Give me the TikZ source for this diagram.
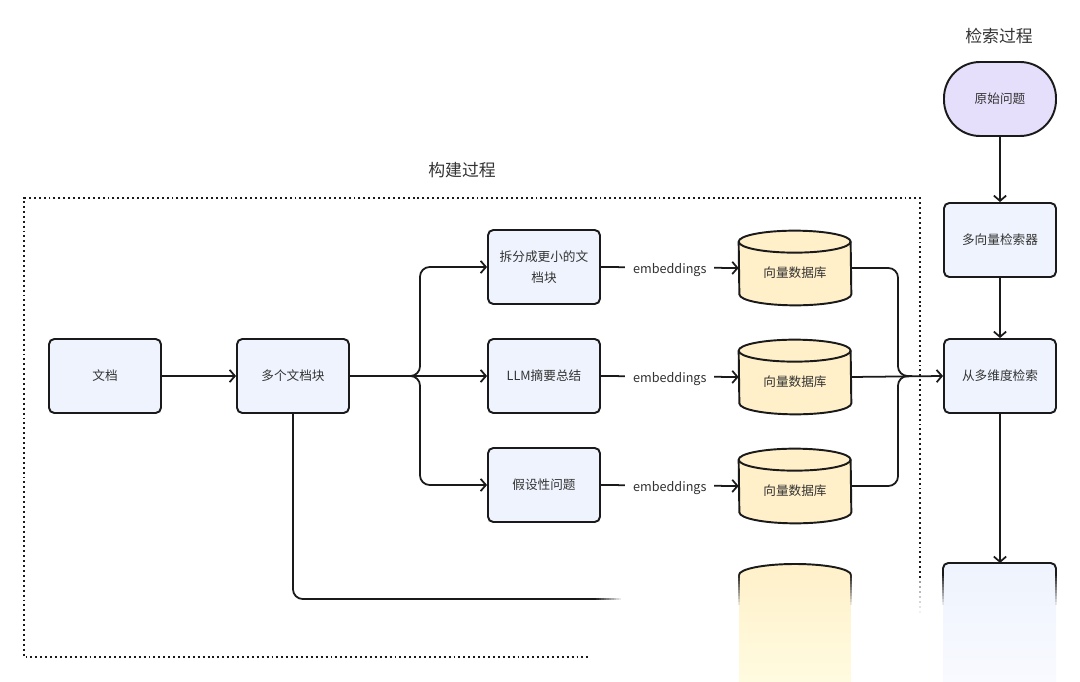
\documentclass[tikz,border=0pt]{standalone}
\usepackage{fontspec}
\setmainfont{Noto Sans CJK SC}
\usetikzlibrary{arrows.meta,backgrounds}

\definecolor{boxfill}{HTML}{EEF3FD}
\definecolor{boxfade}{HTML}{FAFBFF}
\definecolor{dbfill}{HTML}{FFF0C9}
\definecolor{dbfade}{HTML}{FFFCE2}
\definecolor{askfill}{HTML}{E6DFFB}
\definecolor{inkcol}{HTML}{1A1A1A}
\definecolor{txtcol}{HTML}{333333}

\tikzset{
  txt/.style={text=txtcol, font=\fontsize{7.2}{12}\selectfont, align=center},
  stepbox/.style={txt, draw=inkcol, line width=1.1pt, fill=boxfill, rounded corners=3pt,
    minimum width=2.24cm, minimum height=1.48cm},
  askbox/.style={stepbox, fill=askfill, rounded corners=0.72cm},
  dbnode/.style={txt, inner sep=0pt, text height=12pt, text depth=1pt,
    minimum width=2.24cm, minimum height=1.48cm},
  dbline/.style={draw=inkcol, line width=1.1pt},
  link/.style={line width=1pt, draw=inkcol},
  arr/.style={link, -{Straight Barb[length=3pt,width=7pt]}},
  frame/.style={line width=1.1pt, dash pattern=on 1.1pt off 1.7pt, draw=inkcol},
  title/.style={text=txtcol, font=\fontsize{9.6}{12}\selectfont},
  embed/.style={txt, fill=white, inner xsep=4.5pt, yshift=-1.5}
}

\begin{document}
\begin{tikzpicture}[x=0.02cm, y=-0.02cm]
\useasboundingbox (0,0) rectangle (1080,682);

% titles
\node[title] (buildT) at (462,170) {构建过程};
\node[title] (searchT) at (999,36) {检索过程};

% build frame
\draw[frame] (920,578) -- (920,198) -- (24,198) -- (24,657) -- (590,657);

% build side
\node[stepbox] (doc) at (105,376) {文档};
\node[stepbox] (chunks) at (293,376) {多个文档块};
\node[stepbox] (split) at (544,267) {拆分成更小的文\\档块};
\node[stepbox] (summ) at (544,376) {LLM摘要总结};
\node[stepbox] (hypo) at (544,485) {假设性问题};
\node[dbnode] (db1) at (795,268) {向量数据库};
\node[dbnode] (db2) at (795,377) {向量数据库};
\node[dbnode] (db3) at (795,486) {向量数据库};

% cylinders behind the db texts
\begin{scope}[on background layer]
\foreach \d in {db1,db2,db3} {
  \draw[dbline, fill=dbfill] ([yshift=-0.22cm]\d.north west)
    arc[start angle=180, end angle=0, x radius=1.12cm, y radius=0.22cm]
    -- ([yshift=0.22cm]\d.south east)
    arc[start angle=0, end angle=-180, x radius=1.12cm, y radius=0.22cm] -- cycle;
  \draw[dbline] ([yshift=-0.22cm]\d.north west)
    arc[start angle=180, end angle=360, x radius=1.12cm, y radius=0.22cm];
}
\end{scope}

% search side
\node[askbox] (ask) at (1000,99) {原始问题};
\node[stepbox] (retr) at (1000,240) {多向量检索器};
\node[stepbox] (multi) at (1000,376) {从多维度检索};

\coordinate (fork) at (420,376);
\coordinate (join) at (898,376);
\coordinate (joinR) at (912,376);
\coordinate (lowend) at (596,599);
\coordinate (resTop) at (1000,563);

% faded bottom parts
\shade[top color=dbfill, bottom color=dbfade] (739,575)
  arc[start angle=180, end angle=0, x radius=1.12cm, y radius=0.22cm]
  -- (851,690) -- (739,690) -- cycle;
\draw[dbline] (739,575)
  arc[start angle=180, end angle=0, x radius=1.12cm, y radius=0.22cm];
\shade[top color=boxfill, bottom color=boxfade, rounded corners=3pt] (943,563) rectangle (1056,700);
\draw[dbline, rounded corners=3pt] (943,576) |- (1000,563) -| (1056,576);
\foreach \xx in {739,851,943,1056}
  \foreach \k in {0,...,9}
    \draw[dbline, opacity={1-(\k+1)/11}] (\xx,{575+\k*3}) -- (\xx,{578+\k*3});
\foreach \k in {0,...,6}
  \fill[inkcol, opacity={1-(\k+1)/8}] (920,{582+\k*5}) circle (0.55pt);
\foreach \k in {0,...,9}
  \draw[link, opacity={1-(\k+1)/11}] ({596+\k*2.5},599) -- ({598.5+\k*2.5},599);

% connectors
\draw[arr] (doc) -- (chunks);
\draw[arr, rounded corners=5.5pt] (chunks.east) -- (fork) |- (split.west);
\draw[arr] (chunks.east) -- (summ.west);
\draw[arr, rounded corners=5.5pt] (chunks.east) -- (fork) |- (hypo.west);
\foreach \a/\b in {split/db1, summ/db2, hypo/db3}
  \draw[arr] (\a.east) -- node[embed] {embeddings} (\b.west);
\draw[link, rounded corners=5.5pt] (db1.east) -| (join) -- (joinR);
\draw[arr] (db2.east) -- (multi.west);
\draw[link, rounded corners=5.5pt] (db3.east) -| (join) -- (joinR);
\draw[arr] (ask) -- (retr);
\draw[arr] (retr) -- (multi);
\draw[arr] (multi) -- (resTop);
\draw[link, rounded corners=5.5pt] (chunks.south) |- (lowend);
\end{tikzpicture}
\end{document}
